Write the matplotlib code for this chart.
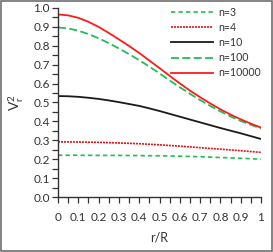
import matplotlib
matplotlib.use("Agg")
import matplotlib.pyplot as plt
import numpy as np
from matplotlib.ticker import MultipleLocator, FixedLocator, FormatStrFormatter
from matplotlib.patches import Rectangle

############   DATA   #############
# flat curves (n=3, n=4) read every 0.1
r_coarse = [0.0, 0.1, 0.2, 0.3, 0.4, 0.5, 0.6, 0.7, 0.8, 0.9, 1.0]
v_n3 = [0.221, 0.221, 0.220, 0.220, 0.219, 0.218, 0.216, 0.213, 0.209, 0.205, 0.200]
v_n4 = [0.292, 0.291, 0.289, 0.286, 0.282, 0.276, 0.269, 0.261, 0.253, 0.245, 0.236]

# curved ones read every 0.05
r_fine = [0.0, 0.05, 0.1, 0.15, 0.2, 0.25, 0.3, 0.35, 0.4, 0.45, 0.5,
          0.55, 0.6, 0.65, 0.7, 0.75, 0.8, 0.85, 0.9, 0.95, 1.0]
v_n10 = [0.534, 0.533, 0.530, 0.525, 0.519, 0.511, 0.502, 0.492, 0.482, 0.469, 0.455,
         0.440, 0.425, 0.410, 0.395, 0.380, 0.365, 0.351, 0.337, 0.322, 0.307]
v_n100 = [0.897, 0.892, 0.880, 0.862, 0.840, 0.814, 0.786, 0.756, 0.724, 0.690, 0.654,
          0.617, 0.581, 0.546, 0.513, 0.482, 0.453, 0.426, 0.402, 0.382, 0.363]
v_n10000 = [0.966, 0.961, 0.948, 0.927, 0.900, 0.868, 0.834, 0.799, 0.762, 0.722, 0.682,
            0.641, 0.601, 0.563, 0.528, 0.495, 0.464, 0.436, 0.411, 0.388, 0.367]

x_ticks = [0, 0.1, 0.2, 0.3, 0.4, 0.5, 0.6, 0.7, 0.8, 0.9, 1]
x_labels = ["0", "0.1", "0.2", "0.3", "0.4", "0.5", "0.6", "0.7", "0.8", "0.9", "1"]

plt.rcParams['font.family'] = ['Lato', 'DejaVu Sans']

#--- figure ---
fig = plt.figure(figsize=(2.73, 2.52), dpi=100)
ax = fig.add_axes([58/273, 1 - 197/252, (261-58)/273, (197-8)/252])

ax.plot(r_coarse, v_n3, color="#1fbf55", lw=1.2, dashes=(2.6, 1.9), label="n=3")
ax.plot(r_coarse, v_n4, color="#e0141c", lw=1.2, dashes=(1.2, 0.6), label="n=4")
ax.plot(r_fine, v_n10, color="#1a1a1a", lw=1.3, label="n=10")
ax.plot(r_fine, v_n100, color="#1fbf55", lw=1.3, dashes=(4.4, 1.9), label="n=100")
ax.plot(r_fine, v_n10000, color="#ff1a1a", lw=1.3, label="n=10000")

ax.set_xlim(0, 1)
ax.set_ylim(0, 1)
ax.xaxis.set_major_locator(FixedLocator(x_ticks))
ax.set_xticklabels(x_labels)
ax.xaxis.set_minor_locator(MultipleLocator(0.05))
ax.yaxis.set_major_locator(MultipleLocator(0.1))
ax.yaxis.set_minor_locator(MultipleLocator(0.05))
ax.yaxis.set_major_formatter(FormatStrFormatter('%.1f'))

ax.spines['top'].set_visible(False)
ax.spines['right'].set_visible(False)
for s in ['left', 'bottom']:
    ax.spines[s].set_color("#333333")
    ax.spines[s].set_linewidth(1.0)
ax.tick_params(which='both', direction='out', length=4, width=0.9, color="#333333",
               labelsize=8.5, labelcolor="#333333")
ax.tick_params(axis='x', pad=7)
ax.tick_params(axis='y', pad=2)

ax.set_xlabel("r/R", fontsize=9, color="#333333", labelpad=6)
ax.set_ylabel(r"$\mathregular{V_r^2}$", fontsize=10, color="#333333", labelpad=5)

ax.legend(loc='upper right', bbox_to_anchor=(1.02, 1.03), frameon=False, fontsize=7.6,
          handlelength=4.0, handletextpad=0.45, labelspacing=0.4, borderaxespad=0,
          labelcolor="#333333")

# outer frame
fig.patches.append(Rectangle((0.002, 0.002), 0.996, 0.996, transform=fig.transFigure,
                             fill=False, edgecolor="#6e6e6e", lw=1.2))

fig.savefig("out.png", dpi=100)
